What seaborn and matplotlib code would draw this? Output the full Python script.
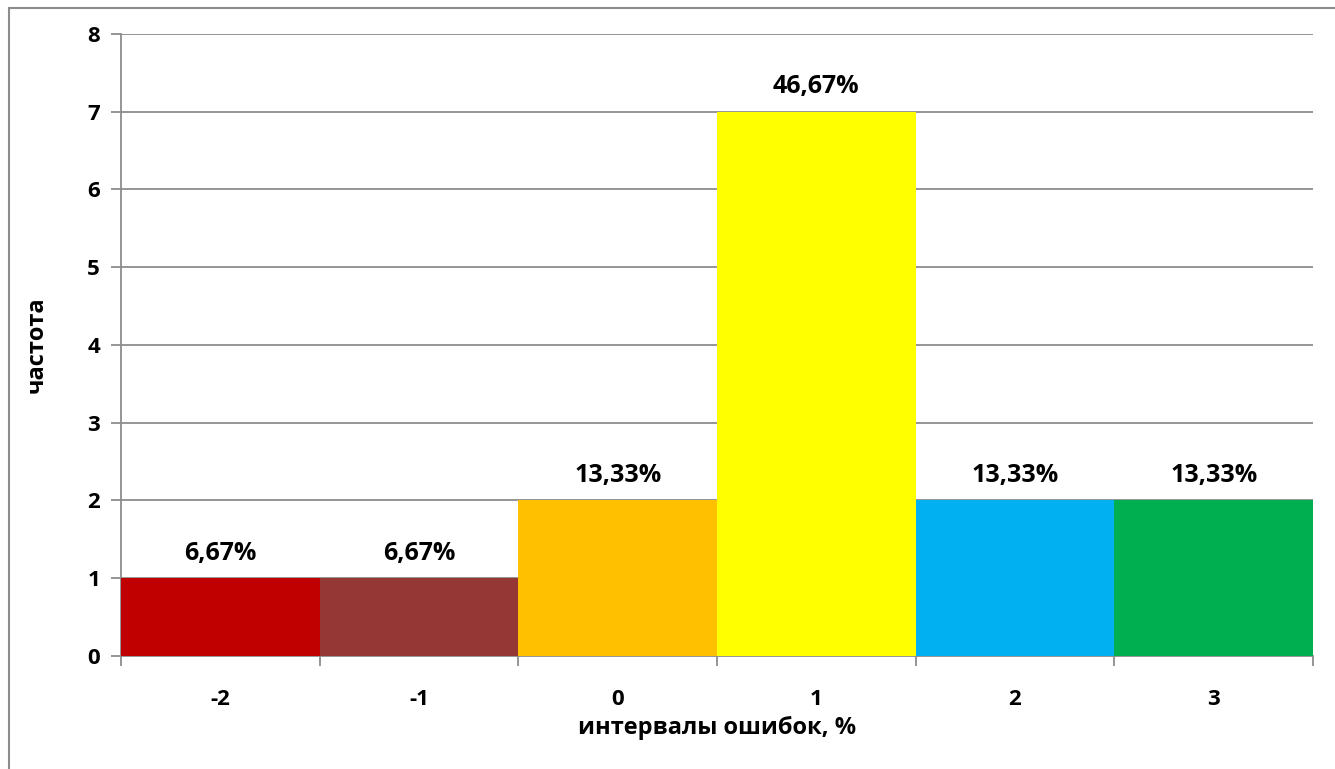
import matplotlib
matplotlib.use('Agg')
from matplotlib import pyplot as plt
from matplotlib.patches import Rectangle
import numpy as np
import pandas as pd
import seaborn as sns

intervals = ['-2', '-1', '0', '1', '2', '3']
counts = [1, 1, 2, 7, 2, 2]
shares = ['6,67%', '6,67%', '13,33%', '46,67%', '13,33%', '13,33%']
bar_colors = ['#C00000', '#953735', '#FFC000', '#FFFF00', '#00B0F0', '#00B050']
y_ticks = [0, 1, 2, 3, 4, 5, 6, 7, 8]

sns.set_style('white')
plt.rcParams['font.family'] = ['Open Sans', 'DejaVu Sans']
plt.rcParams['font.weight'] = 'bold'
plt.rcParams['text.color'] = 'black'
plt.rcParams['axes.labelcolor'] = 'black'
plt.rcParams['xtick.labelcolor'] = 'black'
plt.rcParams['ytick.labelcolor'] = 'black'

df = pd.DataFrame({'interval': intervals, 'count': counts})

fig = plt.figure(figsize=(13.35, 7.69), dpi=100)
ax = fig.add_axes([0.0906, 0.147, 0.8929, 0.8088])

sns.barplot(data=df, x='interval', y='count', hue='interval', palette=bar_colors,
            width=1.0, saturation=1, legend=False, ax=ax, zorder=3, linewidth=0)

ax.set_xlim(-0.5, len(intervals) - 0.5)
ax.set_ylim(0, 8)
ax.set_yticks(y_ticks)
ax.yaxis.grid(True, color='#8c8c8c', linewidth=1.3, zorder=0)
ax.set_axisbelow(True)

for s in ['top', 'right']:
    ax.spines[s].set_visible(False)
for s in ['left', 'bottom']:
    ax.spines[s].set_color('#8c8c8c')
    ax.spines[s].set_linewidth(1.3)

ax.tick_params(axis='y', left=True, length=7, width=1.3, color='#8c8c8c',
               labelsize=16, labelcolor='black', pad=8)
ax.set_xticks(np.arange(len(intervals)))
ax.set_xticklabels(intervals)
ax.set_xticks(np.arange(len(intervals) + 1) - 0.5, minor=True)
ax.tick_params(axis='x', which='major', bottom=False, length=0, labelsize=16,
               labelcolor='black', pad=24)
ax.tick_params(axis='x', which='minor', bottom=True, length=7, width=1.3, color='#8c8c8c')
for lbl in ax.get_xticklabels() + ax.get_yticklabels():
    lbl.set_fontweight('bold')

for i, (c, s) in enumerate(zip(counts, shares)):
    ax.annotate(s, (i, c), xytext=(0, 9), textcoords='offset points', color='black',
                ha='center', va='bottom', fontsize=18, fontweight='bold')

ax.set_xlabel('интервалы ошибок, %', fontsize=17, fontweight='bold', labelpad=4, color='black')
ax.set_ylabel('частота', fontsize=17, fontweight='bold', labelpad=28, color='black')

fig.patches.append(Rectangle((9 / 1335, -0.05), 1.2, 1 - 8 / 769 + 0.05,
                             transform=fig.transFigure, fill=False,
                             edgecolor='#8c8c8c', linewidth=1.5))

fig.savefig('out.png', dpi=100)
